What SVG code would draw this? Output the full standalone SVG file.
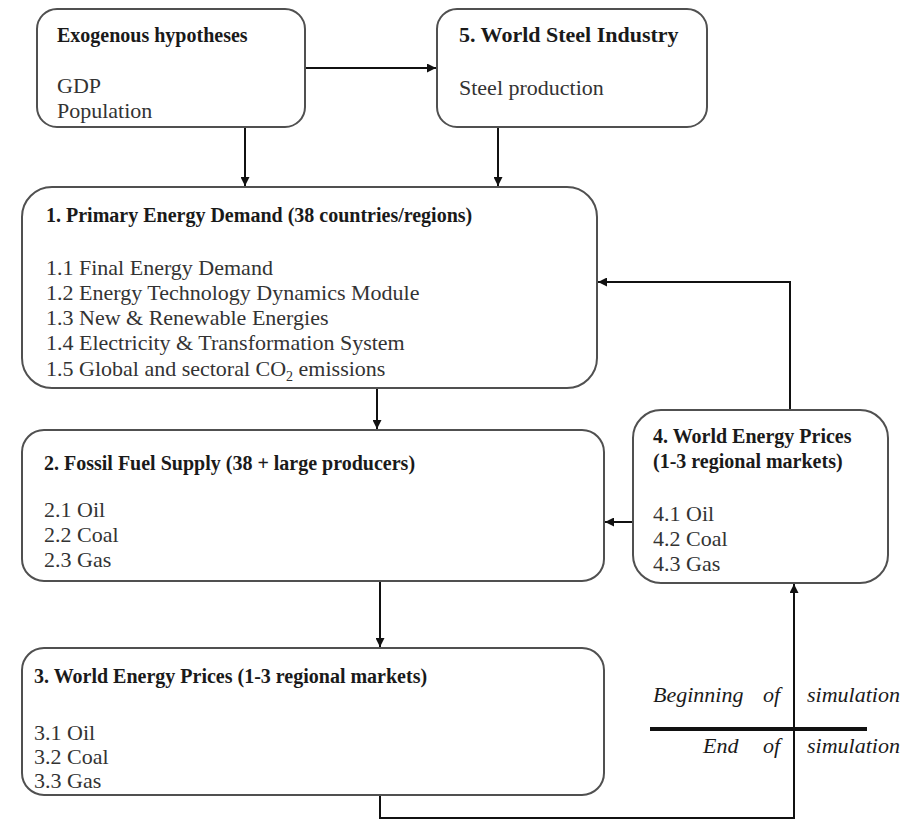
<svg xmlns="http://www.w3.org/2000/svg" width="900" height="821" viewBox="0 0 900 821">
<defs>
<marker id="ah" viewBox="0 0 10 10" refX="10" refY="5" markerWidth="11" markerHeight="9" markerUnits="userSpaceOnUse" orient="auto">
<path d="M0,0 L10,5 L0,10 z" fill="#111"/>
</marker>
<style>
.box{fill:#fff;stroke:#505050;stroke-width:2}
text{font-family:"Liberation Serif","Times New Roman","DejaVu Serif",serif}
.t{font-weight:bold;font-size:20px;fill:#1a1a1a}
.b{font-size:22px;fill:#333}
.i{font-style:italic;font-size:22px;fill:#1a1a1a}
.c{fill:none;stroke:#111;stroke-width:2}
</style>
</defs>
<rect width="900" height="821" fill="#fff"/>
<g id="connectors">
<line class="c" x1="305" y1="68" x2="436" y2="68" marker-end="url(#ah)"/>
<line class="c" x1="245" y1="127" x2="245" y2="186" marker-end="url(#ah)"/>
<line class="c" x1="498" y1="127" x2="498" y2="186" marker-end="url(#ah)"/>
<line class="c" x1="377" y1="388" x2="377" y2="429" marker-end="url(#ah)"/>
<polyline class="c" points="790,410 790,282 598,282" marker-end="url(#ah)"/>
<line class="c" x1="633" y1="522" x2="605" y2="522" marker-end="url(#ah)"/>
<line class="c" x1="380" y1="581" x2="380" y2="647" marker-end="url(#ah)"/>
<polyline class="c" points="380,795 380,818 794,818 794,584" marker-end="url(#ah)"/>
<line x1="650" y1="729" x2="867" y2="729" stroke="#111" stroke-width="4"/>
</g>
<g id="exogenous">
<rect class="box" x="37" y="9" width="268" height="118" rx="20"/>
<text class="t" x="57" y="42">Exogenous hypotheses</text>
<text class="b" x="57" y="93">GDP</text>
<text class="b" x="57" y="118">Population</text>
</g>
<g id="steel">
<rect class="box" x="437" y="9" width="270" height="118" rx="20"/>
<text class="t" x="459" y="42" style="font-size:22px">5. World Steel Industry</text>
<text class="b" x="459" y="95">Steel production</text>
</g>
<g id="demand">
<rect class="box" x="22" y="187" width="575" height="201" rx="30"/>
<text class="t" x="46" y="222">1. Primary Energy Demand (38 countries/regions)</text>
<text class="b" x="46" y="275">1.1 Final Energy Demand</text>
<text class="b" x="46" y="300">1.2 Energy Technology Dynamics Module</text>
<text class="b" x="46" y="325">1.3 New &amp; Renewable Energies</text>
<text class="b" x="46" y="350">1.4 Electricity &amp; Transformation System</text>
<text class="b" x="46" y="376">1.5 Global and sectoral CO<tspan font-size="14" dy="5">2</tspan><tspan dy="-5"> emissions</tspan></text>
</g>
<g id="supply">
<rect class="box" x="22" y="430" width="582" height="151" rx="22"/>
<text class="t" x="44" y="470">2. Fossil Fuel Supply (38 + large producers)</text>
<text class="b" x="44" y="517">2.1 Oil</text>
<text class="b" x="44" y="542">2.2 Coal</text>
<text class="b" x="44" y="567">2.3 Gas</text>
</g>
<g id="prices4">
<rect class="box" x="633" y="410" width="255" height="173" rx="28"/>
<text class="t" x="653" y="443">4. World Energy Prices</text>
<text class="t" x="653" y="468">(1-3 regional markets)</text>
<text class="b" x="653" y="521">4.1 Oil</text>
<text class="b" x="653" y="546">4.2 Coal</text>
<text class="b" x="653" y="571">4.3 Gas</text>
</g>
<g id="prices3">
<rect class="box" x="22" y="648" width="582" height="147" rx="22"/>
<text class="t" x="34" y="683">3. World Energy Prices (1-3 regional markets)</text>
<text class="b" x="34" y="740">3.1 Oil</text>
<text class="b" x="34" y="764">3.2 Coal</text>
<text class="b" x="34" y="788">3.3 Gas</text>
</g>
<g id="simulation">
<text class="i" x="653" y="702">Beginning</text>
<text class="i" x="763" y="702">of</text>
<text class="i" x="807" y="702">simulation</text>
<text class="i" x="703" y="753">End</text>
<text class="i" x="763" y="753">of</text>
<text class="i" x="807" y="753">simulation</text>
</g>
</svg>
